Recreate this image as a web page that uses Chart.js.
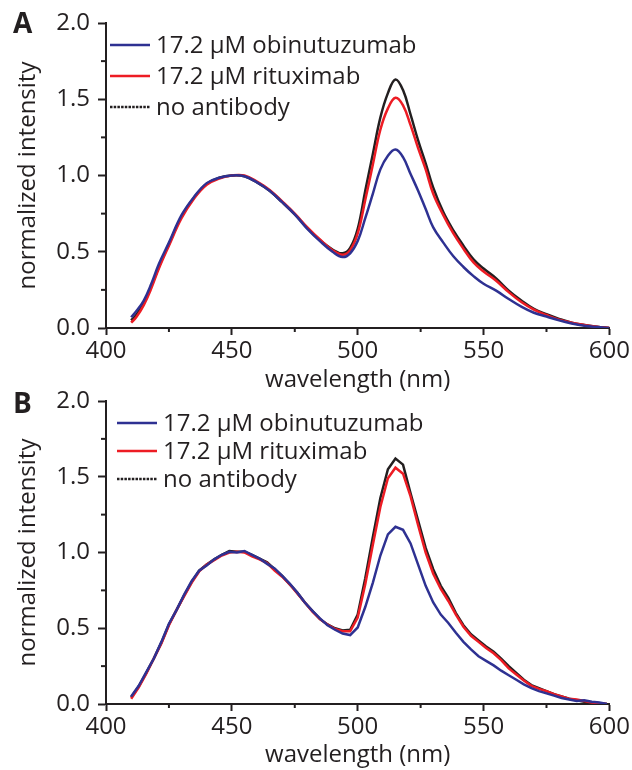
<!DOCTYPE html>
<html lang="en">
<head>
<meta charset="UTF-8">
<title>normalized intensity spectra</title>
<style>
	body { margin: 0; background: white; }
	.wrap { width: 632px; height: 770px; position: relative; }
	.wrap canvas { position: absolute; left: 0; top: 0; }
</style>
<script src="https://cdn.jsdelivr.net/npm/chart.js"></script>
</head>
<body>
<div class="wrap">
	<canvas id="chartA" width="632" height="770"></canvas>
	<canvas id="chartB" width="632" height="770"></canvas>
</div>
<script>
	const seriesLabels = ['17.2 \u03BCM obinutuzumab', '17.2 \u03BCM rituximab', 'no antibody'];

	// panel A (smooth spectra)
	const wavelengthA = [410, 412, 415, 418, 421, 425, 430, 435, 440, 445, 450, 455, 460, 465, 470, 475, 480, 485, 490, 494, 497, 500, 503, 506, 509, 512, 515, 518, 521, 524, 527, 530, 534, 538, 542, 546, 550, 555, 560, 565, 570, 575, 580, 585, 590, 595, 600];
	const obinutuzumabA = [0.07, 0.11, 0.18, 0.29, 0.42, 0.56, 0.74, 0.86, 0.95, 0.985, 1.0, 0.995, 0.955, 0.90, 0.825, 0.745, 0.65, 0.57, 0.50, 0.465, 0.49, 0.57, 0.72, 0.88, 1.04, 1.13, 1.17, 1.12, 1.01, 0.90, 0.78, 0.66, 0.56, 0.47, 0.40, 0.34, 0.29, 0.245, 0.19, 0.14, 0.10, 0.075, 0.05, 0.03, 0.015, 0.006, 0.0];
	const rituximabA = [0.035, 0.07, 0.15, 0.26, 0.39, 0.54, 0.72, 0.85, 0.94, 0.98, 1.0, 1.0, 0.96, 0.905, 0.83, 0.75, 0.66, 0.58, 0.51, 0.48, 0.51, 0.62, 0.84, 1.07, 1.30, 1.44, 1.51, 1.46, 1.33, 1.18, 1.04, 0.88, 0.74, 0.62, 0.52, 0.43, 0.37, 0.31, 0.235, 0.17, 0.12, 0.085, 0.055, 0.035, 0.02, 0.008, 0.0];
	const noAntibodyA = [0.05, 0.085, 0.165, 0.275, 0.40, 0.55, 0.73, 0.855, 0.945, 0.985, 1.0, 0.995, 0.955, 0.90, 0.825, 0.745, 0.655, 0.575, 0.515, 0.49, 0.525, 0.65, 0.90, 1.14, 1.38, 1.54, 1.63, 1.56, 1.40, 1.23, 1.08, 0.92, 0.76, 0.64, 0.54, 0.45, 0.39, 0.325, 0.245, 0.18, 0.125, 0.09, 0.06, 0.035, 0.02, 0.008, 0.0];

	// panel B (noisier spectra)
	const wavelengthB = [410, 413, 416, 419, 422, 425, 428, 431, 434, 437, 440, 443, 446, 449, 452, 455, 458, 461, 464, 467, 470, 473, 476, 479, 482, 485, 488, 491, 494, 497, 500, 503, 506, 509, 512, 515, 518, 521, 524, 527, 530, 533, 536, 539, 542, 545, 548, 551, 554, 557, 560, 563, 566, 569, 572, 575, 578, 581, 584, 587, 590, 593, 596, 599];
	const obinutuzumabB = [0.05, 0.12, 0.21, 0.30, 0.41, 0.53, 0.62, 0.72, 0.81, 0.88, 0.915, 0.955, 0.985, 1.005, 1.0, 1.01, 0.985, 0.96, 0.925, 0.895, 0.845, 0.795, 0.735, 0.67, 0.615, 0.565, 0.52, 0.49, 0.465, 0.455, 0.505, 0.64, 0.80, 0.98, 1.12, 1.17, 1.15, 1.06, 0.92, 0.78, 0.67, 0.59, 0.535, 0.47, 0.41, 0.36, 0.315, 0.285, 0.255, 0.22, 0.19, 0.16, 0.13, 0.105, 0.085, 0.07, 0.055, 0.04, 0.03, 0.02, 0.025, 0.015, 0.01, 0.0];
	const rituximabB = [0.035, 0.11, 0.20, 0.30, 0.40, 0.52, 0.62, 0.71, 0.80, 0.875, 0.92, 0.95, 0.98, 1.0, 1.005, 1.0, 0.975, 0.955, 0.93, 0.88, 0.84, 0.79, 0.73, 0.67, 0.61, 0.56, 0.525, 0.495, 0.48, 0.48, 0.57, 0.79, 1.05, 1.30, 1.49, 1.56, 1.52, 1.37, 1.18, 1.00, 0.86, 0.76, 0.68, 0.59, 0.51, 0.45, 0.41, 0.37, 0.335, 0.29, 0.235, 0.195, 0.155, 0.12, 0.10, 0.085, 0.065, 0.05, 0.035, 0.03, 0.02, 0.01, 0.005, 0.0];
	const noAntibodyB = [0.045, 0.115, 0.205, 0.30, 0.405, 0.525, 0.62, 0.715, 0.805, 0.88, 0.92, 0.955, 0.985, 1.01, 1.005, 1.005, 0.985, 0.96, 0.935, 0.89, 0.845, 0.79, 0.735, 0.67, 0.615, 0.56, 0.525, 0.50, 0.485, 0.49, 0.59, 0.83, 1.10, 1.36, 1.55, 1.62, 1.58, 1.39, 1.21, 1.03, 0.89, 0.78, 0.70, 0.60, 0.52, 0.46, 0.42, 0.38, 0.345, 0.30, 0.25, 0.205, 0.16, 0.125, 0.105, 0.085, 0.065, 0.05, 0.035, 0.025, 0.015, 0.01, 0.005, 0.0];

	const minorX = [425, 475, 525, 575];
	const minorY = [0.25, 0.75, 1.25, 1.75];

	const ink = '#231f20';
	const colors = ['#2e3192', '#ed1c24', ink];
	const fontFamily = '"Open Sans", Arial, sans-serif';

	function points(xs, ys) {
		return xs.map((x, i) => ({ x: x, y: ys[i] }));
	}

	// minor ticks, legend inside the plot and the panel letter
	const extras = {
		id: 'extras',
		afterDraw(chart, args, opts) {
			const { ctx, chartArea, scales } = chart;
			ctx.save();
			ctx.strokeStyle = ink;
			ctx.lineWidth = 2;
			minorX.forEach(v => {
				const px = scales.x.getPixelForValue(v);
				ctx.beginPath();
				ctx.moveTo(px, chartArea.bottom);
				ctx.lineTo(px, chartArea.bottom + 4);
				ctx.stroke();
			});
			minorY.forEach(v => {
				const py = scales.y.getPixelForValue(v);
				ctx.beginPath();
				ctx.moveTo(chartArea.left, py);
				ctx.lineTo(chartArea.left - 5, py);
				ctx.stroke();
			});

			ctx.font = '24px ' + fontFamily;
			ctx.textBaseline = 'alphabetic';
			ctx.fillStyle = ink;
			chart.data.datasets.forEach((ds, i) => {
				const yy = chartArea.top + opts.legendTop + i * opts.legendGap;
				ctx.strokeStyle = ds.borderColor;
				ctx.lineWidth = 2.5;
				ctx.setLineDash(i === 2 ? [2.5, 1.2] : []);
				ctx.beginPath();
				ctx.moveTo(opts.legendX, yy);
				ctx.lineTo(opts.legendX + 40, yy);
				ctx.stroke();
				ctx.setLineDash([]);
				ctx.fillText(ds.label, opts.legendX + 46, yy + 8);
			});

			ctx.font = 'bold 28px ' + fontFamily;
			ctx.fillText(opts.letter, 13, opts.letterY);
			ctx.restore();
		}
	};

	function makeChart(id, xs, series, cfg) {
		const datasets = series.map((ys, i) => ({
			label: seriesLabels[i],
			data: points(xs, ys),
			borderColor: colors[i],
			borderWidth: 2.5,
			pointRadius: 0,
			tension: cfg.tension,
			fill: false
		}));
		return new Chart(document.getElementById(id), {
			type: 'line',
			data: { datasets: datasets },
			plugins: [extras],
			options: {
				responsive: false,
				animation: false,
				layout: { padding: { top: cfg.top, right: 22, bottom: cfg.bottom, left: 0 } },
				plugins: {
					legend: { display: false },
					tooltip: { enabled: false },
					extras: { letter: cfg.letter, letterY: cfg.letterY, legendX: cfg.legendX, legendTop: cfg.legendTop, legendGap: cfg.legendGap }
				},
				scales: {
					x: {
						type: 'linear',
						min: 400,
						max: 600,
						afterFit: s => { s.height = cfg.xHeight; },
						ticks: { stepSize: 50, color: ink, padding: 2, maxRotation: 0, font: { size: 24, family: fontFamily } },
						grid: { drawOnChartArea: false, tickLength: 7, tickWidth: 2, tickColor: ink },
						border: { color: ink, width: 2 },
						title: { display: true, text: 'wavelength (nm)', color: ink, padding: 0, font: { size: 24, family: fontFamily } }
					},
					y: {
						min: 0,
						max: 2,
						afterFit: s => { s.width = 106; },
						ticks: { stepSize: 0.5, color: ink, padding: 8, font: { size: 24, family: fontFamily }, callback: v => v.toFixed(1) },
						grid: { drawOnChartArea: false, tickLength: 8, tickWidth: 2, tickColor: ink },
						border: { color: ink, width: 2 },
						title: { display: true, text: 'normalized intensity', color: ink, padding: { top: 14, bottom: 0 }, font: { size: 24, family: fontFamily } }
					}
				}
			}
		});
	}

	makeChart('chartA', wavelengthA, [obinutuzumabA, rituximabA, noAntibodyA],
		{ tension: 0.4, top: 23, bottom: 375, xHeight: 67, letter: 'A', letterY: 33, legendX: 110, legendTop: 22, legendGap: 31 });
	makeChart('chartB', wavelengthB, [obinutuzumabB, rituximabB, noAntibodyB],
		{ tension: 0, top: 401, bottom: 0, xHeight: 66, letter: 'B', letterY: 413, legendX: 117, legendTop: 22, legendGap: 28 });
</script>
</body>
</html>
